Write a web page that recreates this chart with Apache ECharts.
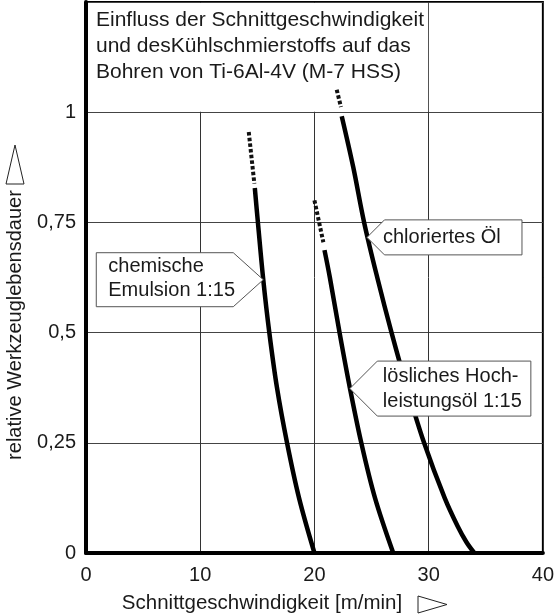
<!DOCTYPE html>
<html>
<head>
<meta charset="utf-8">
<script src="https://cdn.jsdelivr.net/npm/echarts@6/dist/echarts.min.js"></script>
<style>
  html, body { margin: 0; padding: 0; background: #fff; }
  #chart { width: 557px; height: 616px; }
</style>
</head>
<body>
<div id="chart"></div>
<script>
// Cutting speed [m/min] vs. relative tool life, three coolants (drilling Ti-6Al-4V, M-7 HSS)
const xTicks = [0, 10, 20, 30, 40];
const yTicks = [0, 0.25, 0.5, 0.75, 1];

// chemische Emulsion 1:15
const emulsionSolid = [[14.78, 0.828], [15.05, 0.75], [15.52, 0.62], [16.05, 0.5], [16.72, 0.375], [17.6, 0.25], [18.65, 0.125], [20.0, 0.0]];
const emulsionDotted = [[14.25, 0.955], [14.74, 0.838]];

// lösliches Hochleistungsöl 1:15
const oilSolid = [[20.88, 0.687], [21.35, 0.625], [22.2, 0.5], [23.1, 0.375], [24.1, 0.25], [25.3, 0.125], [26.9, 0.0]];
const oilDotted = [[20.0, 0.80], [20.78, 0.705]];

// chloriertes Öl
const chlorSolid = [[22.39, 0.991], [23.4, 0.875], [24.35, 0.75], [25.5, 0.625], [26.75, 0.5], [28.1, 0.375], [29.6, 0.25], [31.4, 0.125], [32.55, 0.06], [33.3, 0.025], [34.0, 0.0]];
const chlorDotted = [[21.95, 1.051], [22.32, 1.012]];

const titleLines = ['Einfluss der Schnittgeschwindigkeit', 'und desKühlschmierstoffs auf das', 'Bohren von Ti-6Al-4V (M-7 HSS)'];
const xName = 'Schnittgeschwindigkeit [m/min]';
const yName = 'relative Werkzeuglebensdauer';

// callout texts and the curve point each one points to
const emulsionLabel = ['chemische', 'Emulsion 1:15'];
const emulsionAnchor = [15.52, 0.62];
const chlorLabel = ['chloriertes Öl'];
const chlorAnchor = [24.6, 0.716];
const oilLabel = ['lösliches Hoch-', 'leistungsöl 1:15'];
const oilAnchor = [23.1, 0.373];

const FONT = '"Liberation Sans", Arial, sans-serif';
const TXT = '#1a1a1a';

const chart = echarts.init(document.getElementById('chart'), null, { renderer: 'canvas' });

function solid(data) {
  return { type: 'line', data, symbol: 'none', smooth: 0.35, z: 2,
    lineStyle: { color: '#000', width: 4.5, cap: 'butt' }, silent: true };
}
function dotted(data) {
  return { type: 'line', data, symbol: 'none', z: 2,
    lineStyle: { color: '#111', width: 4, type: [3.5, 2.2], cap: 'butt' }, silent: true };
}

chart.setOption({
  animation: false,
  backgroundColor: '#fff',
  grid: { left: 86, right: 10, top: 2, bottom: 63, show: true, borderColor: '#000', borderWidth: 2, backgroundColor: 'transparent' },
  xAxis: {
    type: 'value', min: xTicks[0], max: xTicks[xTicks.length - 1], interval: 10,
    axisLine: { lineStyle: { color: '#000', width: 4 } },
    axisTick: { show: false },
    splitLine: { show: true, lineStyle: { color: '#333', width: 1 } },
    axisLabel: { fontSize: 20, color: TXT, fontFamily: FONT, margin: 12 }
  },
  yAxis: {
    type: 'value', min: 0, max: 1.25, interval: 0.25,
    axisLine: { show: true, lineStyle: { color: '#000', width: 4 } },
    axisTick: { show: false },
    splitLine: { show: true, lineStyle: { color: '#444', width: 1 } },
    axisLabel: {
      fontSize: 20, color: TXT, fontFamily: FONT, margin: 10,
      formatter: v => yTicks.some(t => Math.abs(t - v) < 1e-9) ? String(v).replace('.', ',') : ''
    }
  },
  series: [
    dotted(emulsionDotted), solid(emulsionSolid),
    dotted(oilDotted), solid(oilSolid),
    dotted(chlorDotted), solid(chlorSolid)
  ]
});

function px(p) { return chart.convertToPixel({ gridIndex: 0 }, p); }

const g = [];

// white panel behind the heading, covering the grid lines in that corner
const pTL = px([0, 1.25]);
const pBR = px([30, 1]);
g.push({ type: 'rect', z: 1, silent: true,
  shape: { x: pTL[0] + 2.5, y: pTL[1] + 1, width: pBR[0] - pTL[0] - 3, height: pBR[1] - pTL[1] - 1.5 },
  style: { fill: '#fff' } });
g.push({ type: 'text', z: 5, silent: true, left: pTL[0] + 10, top: 7,
  style: { text: titleLines.join('\n'), font: '21px ' + FONT, fill: TXT, lineHeight: 26 } });

// callout with arrow tip on the right
function calloutLeft(anchor, lines) {
  const t = px(anchor);
  const L = t[0] - 167, C = t[0] - 30, T = t[1] - 27, B = t[1] + 27;
  g.push({ type: 'polygon', z: 4, silent: true,
    shape: { points: [[L, T], [C, T], [t[0], t[1]], [C, B], [L, B]] },
    style: { fill: '#fff', stroke: '#555', lineWidth: 1 } });
  g.push({ type: 'text', z: 5, silent: true, x: L + 12, y: t[1] - 1,
    style: { text: lines.join('\n'), font: '20px ' + FONT, fill: TXT, lineHeight: 24, verticalAlign: 'middle' } });
}
// callout with arrow tip on the left
function calloutRight(anchor, lines, w, h) {
  const t = px(anchor);
  const half = h / 2;
  const C = t[0] + half, R = t[0] + w, T = t[1] - half, B = t[1] + half;
  g.push({ type: 'polygon', z: 4, silent: true,
    shape: { points: [[t[0], t[1]], [C, T], [R, T], [R, B], [C, B]] },
    style: { fill: '#fff', stroke: '#555', lineWidth: 1 } });
  g.push({ type: 'text', z: 5, silent: true, x: t[0] + (lines.length > 1 ? 33 : 16), y: t[1],
    style: { text: lines.join('\n'), font: '20px ' + FONT, fill: TXT, lineHeight: 25, verticalAlign: 'middle' } });
}
calloutLeft(emulsionAnchor, emulsionLabel);
calloutRight(chlorAnchor, chlorLabel, 155, 35);
calloutRight(oilAnchor, oilLabel, 181, 55);

// axis titles with outlined arrow triangles
g.push({ type: 'text', z: 5, silent: true, x: 262, y: 603,
  style: { text: xName, font: '20.5px ' + FONT, fill: TXT, align: 'center', verticalAlign: 'middle' } });
g.push({ type: 'polygon', z: 5, silent: true,
  shape: { points: [[418, 596], [447, 604.5], [418, 613]] },
  style: { fill: '#fff', stroke: '#222', lineWidth: 1 } });

g.push({ type: 'text', z: 5, silent: true, x: 15, y: 325, rotation: Math.PI / 2,
  style: { text: yName, font: '20px ' + FONT, fill: TXT, align: 'center', verticalAlign: 'middle' } });
g.push({ type: 'polygon', z: 5, silent: true,
  shape: { points: [[15, 145], [24, 184], [6, 184]] },
  style: { fill: '#fff', stroke: '#222', lineWidth: 1 } });

chart.setOption({ graphic: { elements: g } });
</script>
</body>
</html>
